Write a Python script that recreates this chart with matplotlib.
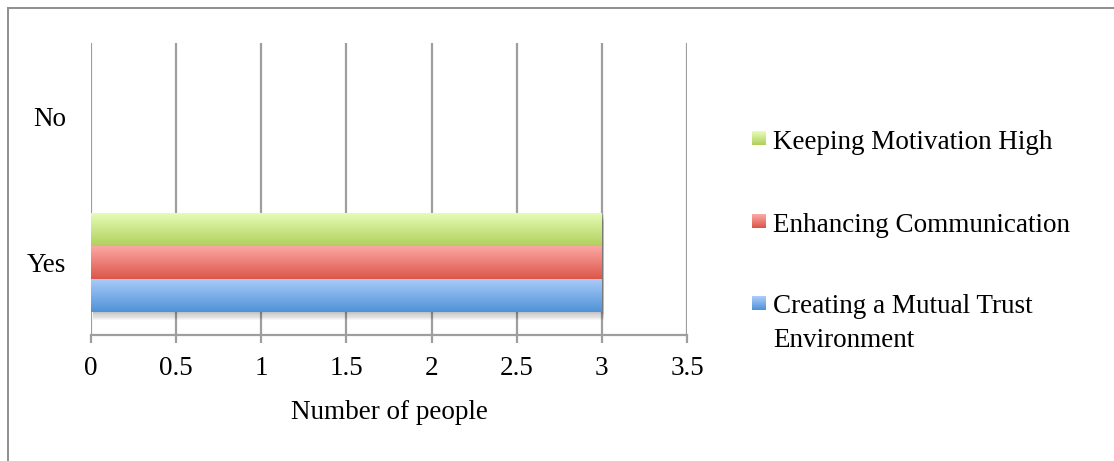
import numpy as np
import matplotlib
matplotlib.use("Agg")
import matplotlib.pyplot as plt
from matplotlib.colors import LinearSegmentedColormap
from matplotlib.patches import Rectangle
from matplotlib.lines import Line2D
import matplotlib.transforms as mtransforms

plt.rcParams["font.family"] = ["Liberation Serif", "DejaVu Serif"]

# Data
categories = ["Yes", "No"]
series_names = ["Creating a Mutual Trust\nEnvironment",
                "Enhancing Communication",
                "Keeping Motivation High"]
trust_values = [3, 0]
communication_values = [3, 0]
motivation_values = [3, 0]
xticks = [0, 0.5, 1, 1.5, 2, 2.5, 3, 3.5]
xlabel = "Number of people"

# Gradient colours (bottom, top) for each series
grad_colors = [("#4f92d8", "#aacbf9"),
               ("#dc5549", "#fba8a3"),
               ("#b0d05c", "#e5fcb6")]

series_values = [trust_values, communication_values, motivation_values]

W, H = 1114, 461
FS = 19.5
fig = plt.figure(figsize=(W / 100, H / 100), dpi=100)
ax = fig.add_axes([0.0817, 0.2733, 0.535, 0.6334])

bar_h = 0.226
offsets = [-bar_h, 0.0, bar_h]
grid_col = "#9e9e9e"

for xv in xticks:
    ax.axvline(xv, color=grid_col, lw=1.6, zorder=1)

ypos = np.arange(len(categories))

# soft drop shadow beneath the bar groups
for i, c in enumerate(categories):
    vals = [sv[i] for sv in series_values]
    if max(vals) <= 0:
        continue
    y0 = ypos[i] + offsets[0] - bar_h / 2
    y1 = ypos[i] + offsets[-1] + bar_h / 2
    for k in range(1, 8):
        tr = mtransforms.offset_copy(ax.transData, fig=fig, x=1.5, y=-k * 0.9, units="points")
        ax.add_patch(Rectangle((0, y0), max(vals), y1 - y0, transform=tr,
                               facecolor="black", edgecolor="none",
                               alpha=0.035, zorder=2))

grad = np.linspace(0, 1, 256).reshape(-1, 1)
for s, (vals, (cb, ct)) in enumerate(zip(series_values, grad_colors)):
    cmap = LinearSegmentedColormap.from_list(f"g{s}", [cb, ct])
    bars = ax.barh(ypos + offsets[s], vals, height=bar_h, color=ct,
                   edgecolor="none", zorder=3)
    for bar in bars:
        w = bar.get_width()
        if w <= 0:
            continue
        yb = bar.get_y()
        im = ax.imshow(grad, cmap=cmap, aspect="auto", origin="lower",
                       extent=[0, w, yb, yb + bar_h], zorder=4,
                       interpolation="bilinear")
        im.set_clip_path(bar)
ax.set_xlim(0, 3.5)
ax.set_ylim(-0.5, 1.5)

ax.set_xticks(xticks)
ax.set_xticklabels([f"{t:g}" for t in xticks], fontsize=FS)
ax.set_yticks(ypos)
ax.set_yticklabels(categories, fontsize=FS)
ax.tick_params(axis="x", length=6, width=1.6, color=grid_col, pad=9)
ax.tick_params(axis="y", length=0, pad=18)
for side in ["top", "right", "left"]:
    ax.spines[side].set_visible(False)
ax.spines["bottom"].set_color(grid_col)
ax.spines["bottom"].set_linewidth(1.6)
ax.set_xlabel(xlabel, fontsize=FS, labelpad=13.5)

# legend: gradient squares with labels, top entry first
def fx(px):
    return px / W


def fy(py):
    return 1 - py / H


legend_order = [2, 1, 0]
baselines = [149, 232, 314]
line_step = 33
sq = 14
for idx, base in zip(legend_order, baselines):
    cb, ct = grad_colors[idx]
    cmap = LinearSegmentedColormap.from_list("h", [cb, ct])
    top = base - 18
    n = 14
    for k in range(n):
        fig.add_artist(Rectangle((fx(752), fy(top + sq * (k + 1) / n)), fx(sq),
                                 sq / n / H + 0.0005,
                                 transform=fig.transFigure,
                                 facecolor=cmap(1 - k / (n - 1)), edgecolor="none"))
    extra = series_names[idx].count("\n") * line_step
    fig.text(fx(773), fy(base + extra), series_names[idx], fontsize=FS,
             va="baseline", ha="left", linespacing=1.45)

# outer frame lines
fig.add_artist(Line2D([fx(8), 1.0], [fy(8.5)] * 2, transform=fig.transFigure,
                      color="#8e8e8e", lw=1.4))
fig.add_artist(Line2D([fx(8)] * 2, [0, fy(8.5)], transform=fig.transFigure,
                      color="#8e8e8e", lw=1.4))

fig.savefig("out.png", dpi=100)
